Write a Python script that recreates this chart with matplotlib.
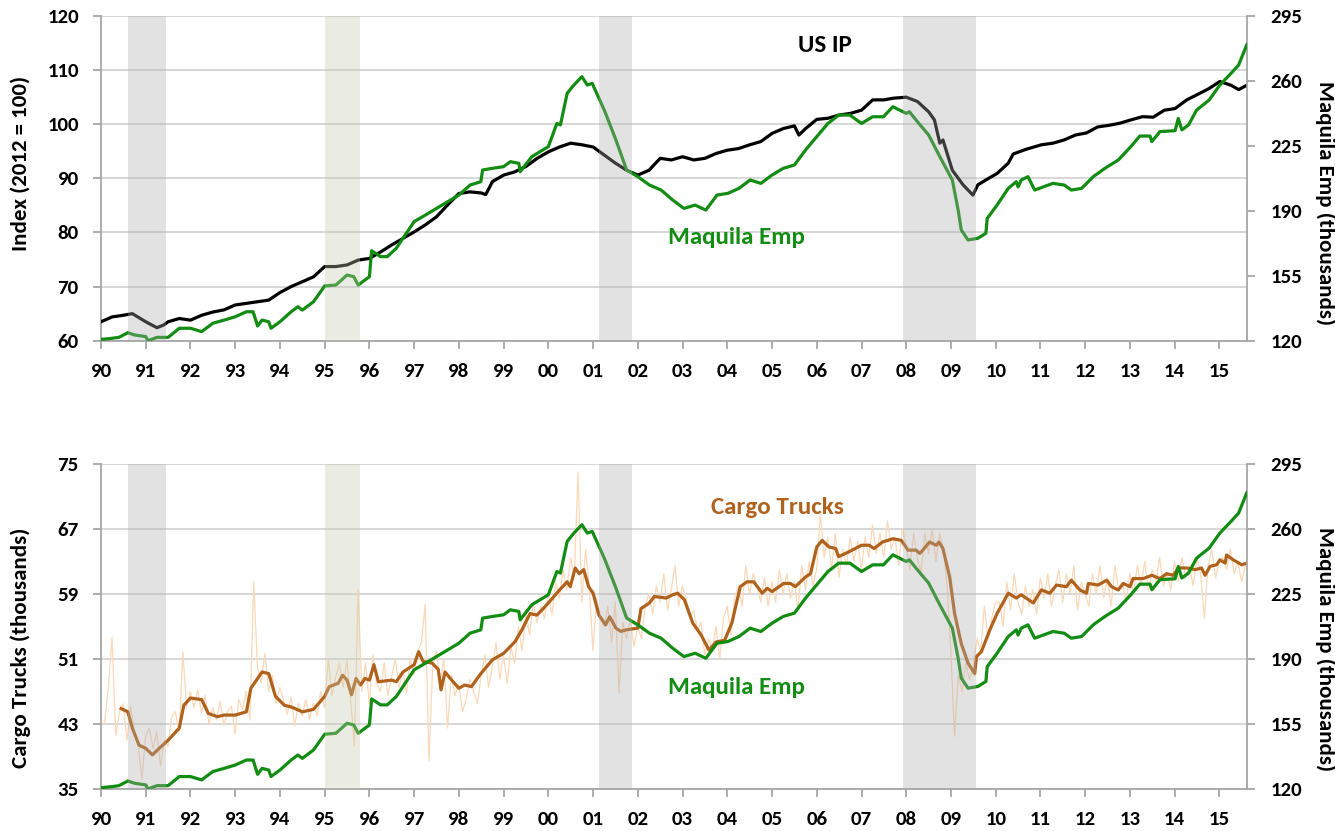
import matplotlib
matplotlib.use("Agg")
import matplotlib.pyplot as plt
import numpy as np

# ---------------- data ----------------
years_ticks = list(range(1990, 2016))
tick_labels = [f"{y % 100:02d}" for y in years_ticks]

ip_x = [1990.0,1990.25,1990.5,1990.7,1991.0,1991.25,1991.4,1991.5,1991.75,1992.0,1992.25,1992.5,1992.75,
        1993.0,1993.25,1993.5,1993.75,1994.0,1994.25,1994.5,1994.75,1995.0,1995.25,1995.5,1995.75,1996.0,
        1996.25,1996.5,1996.75,1997.0,1997.25,1997.5,1997.75,1998.0,1998.25,1998.5,1998.6,1998.75,1999.0,
        1999.25,1999.5,1999.75,2000.0,2000.25,2000.5,2000.75,2001.0,2001.25,2001.5,2001.75,2002.0,2002.25,
        2002.5,2002.75,2003.0,2003.25,2003.5,2003.75,2004.0,2004.25,2004.5,2004.75,2005.0,2005.25,2005.5,
        2005.6,2005.75,2006.0,2006.25,2006.5,2006.75,2007.0,2007.25,2007.5,2007.7,2008.0,2008.25,2008.5,
        2008.63,2008.75,2008.82,2009.03,2009.27,2009.49,2009.6,2009.78,2010.03,2010.28,2010.39,2010.69,
        2011.02,2011.28,2011.53,2011.78,2012.03,2012.28,2012.53,2012.78,2013.02,2013.28,2013.52,2013.77,
        2014.01,2014.27,2014.51,2014.77,2015.01,2015.26,2015.43,2015.61]
ip_v = [63.5,64.4,64.7,65.0,63.5,62.4,62.9,63.5,64.1,63.8,64.7,65.3,65.7,
        66.6,66.9,67.2,67.5,68.9,70.0,70.9,71.8,73.7,73.7,74.0,74.9,75.2,
        76.4,77.7,78.9,80.1,81.4,82.9,85.1,87.2,87.5,87.3,87.0,89.4,90.6,
        91.2,92.2,93.7,94.9,95.8,96.5,96.2,95.8,94.3,92.8,91.5,90.6,91.5,
        93.7,93.4,94.0,93.4,93.7,94.6,95.2,95.5,96.2,96.8,98.3,99.2,99.7,
        98.0,99.2,100.9,101.1,101.7,102.0,102.6,104.5,104.5,104.8,105.0,104.2,102.3,
        100.8,96.5,97.1,91.5,88.8,86.9,88.8,89.7,90.9,92.8,94.5,95.4,
        96.2,96.5,97.1,98.0,98.4,99.5,99.8,100.2,100.8,101.4,101.3,102.6,
        102.9,104.5,105.5,106.6,107.9,107.2,106.4,107.2]

maq_x = [1990.0,1990.25,1990.4,1990.6,1990.75,1991.0,1991.05,1991.25,1991.5,1991.75,1992.0,1992.25,1992.5,
         1992.75,1993.0,1993.25,1993.4,1993.5,1993.6,1993.75,1993.8,1994.0,1994.25,1994.4,1994.5,1994.75,
         1995.0,1995.25,1995.5,1995.65,1995.75,1996.0,1996.05,1996.25,1996.4,1996.6,1996.75,1997.0,1997.25,
         1997.5,1997.75,1998.0,1998.25,1998.49,1998.53,1998.75,1999.0,1999.15,1999.34,1999.37,1999.63,
         2000.0,2000.19,2000.27,2000.42,2000.57,2000.75,2000.87,2000.98,2001.25,2001.51,2001.75,2002.0,
         2002.26,2002.52,2002.78,2003.03,2003.28,2003.52,2003.77,2004.01,2004.26,2004.51,2004.75,2005.0,
         2005.25,2005.5,2005.75,2006.0,2006.25,2006.49,2006.74,2007.0,2007.25,2007.49,2007.7,2008.0,
         2008.07,2008.25,2008.5,2008.75,2009.03,2009.16,2009.23,2009.38,2009.6,2009.78,2009.81,2010.03,
         2010.28,2010.46,2010.5,2010.57,2010.72,2010.87,2011.28,2011.53,2011.69,2011.92,2012.18,2012.44,
         2012.74,2013.02,2013.22,2013.45,2013.49,2013.67,2014.01,2014.08,2014.16,2014.31,2014.49,2014.77,
         2015.01,2015.26,2015.43,2015.61]
maq_v = [120.7,121.3,121.8,124.3,123.1,122.2,120.0,121.8,121.8,126.7,126.7,124.9,129.4,
         131.1,132.9,135.6,135.6,127.9,131.1,130.2,126.7,130.2,135.6,138.3,136.5,141.0,
         149.5,150.0,155.4,154.5,150.0,154.5,168.5,165.3,165.3,169.8,175.2,184.2,187.7,
         191.3,194.9,198.5,203.9,205.7,212.0,212.9,213.8,216.5,215.6,211.1,219.2,
         224.6,237.1,236.3,253.3,257.8,262.3,257.8,258.7,244.3,228.2,212.0,208.4,
         203.9,201.2,195.8,191.3,193.1,190.4,198.5,199.4,202.1,206.6,204.8,209.3,
         212.9,214.7,222.8,230.0,237.1,241.6,241.6,237.1,240.7,240.7,246.1,242.5,
         243.4,238.0,230.9,219.2,206.6,190.4,179.7,174.3,175.2,177.9,185.9,193.1,
         202.1,205.7,202.9,206.6,208.4,201.2,204.8,203.9,201.2,202.1,208.4,212.9,
         217.4,224.6,230.3,230.3,227.3,232.7,233.2,239.8,233.6,236.3,244.3,249.7,
         257.8,264.1,268.6,279.4]

truck_x = [1990.45,1990.6,1990.7,1990.85,1991.0,1991.15,1991.3,1991.5,1991.75,1991.85,1992.0,1992.25,1992.4,
           1992.6,1992.75,1993.0,1993.25,1993.35,1993.6,1993.75,1993.9,1994.1,1994.25,1994.5,1994.75,1995.0,
           1995.1,1995.3,1995.4,1995.5,1995.6,1995.7,1995.8,1995.9,1996.0,1996.1,1996.2,1996.5,1996.6,1996.75,
           1997.0,1997.1,1997.2,1997.4,1997.54,1997.6,1997.69,1997.84,1998.0,1998.13,1998.28,1998.49,1998.75,
           1999.0,1999.25,1999.41,1999.59,1999.74,1999.85,2000.0,2000.25,2000.42,2000.49,2000.6,2000.69,
           2000.79,2000.9,2001.0,2001.13,2001.28,2001.37,2001.51,2001.62,2001.75,2002.0,2002.07,2002.26,
           2002.37,2002.63,2002.78,2002.89,2003.04,2003.23,2003.41,2003.59,2003.75,2003.94,2004.1,2004.29,
           2004.44,2004.59,2004.78,2004.89,2005.0,2005.26,2005.41,2005.52,2005.75,2005.86,2006.0,2006.12,
           2006.27,2006.42,2006.49,2006.72,2007.0,2007.17,2007.28,2007.47,2007.7,2007.89,2008.04,2008.22,
           2008.3,2008.37,2008.52,2008.67,2008.73,2008.82,2008.97,2009.08,2009.23,2009.38,2009.53,2009.57,
           2009.68,2009.87,2010.03,2010.28,2010.46,2010.57,2010.84,2011.02,2011.21,2011.36,2011.58,2011.69,
           2011.88,2012.03,2012.07,2012.29,2012.48,2012.59,2012.74,2012.85,2013.0,2013.07,2013.3,2013.49,
           2013.67,2013.82,2013.97,2014.08,2014.27,2014.46,2014.6,2014.68,2014.79,2014.94,2015.01,2015.13,
           2015.16,2015.31,2015.5,2015.61]
truck_v = [44.9,44.5,42.5,40.4,40.0,39.2,40.0,41.0,42.5,45.3,46.2,46.0,44.3,
           43.9,44.1,44.1,44.5,47.4,49.4,49.2,46.4,45.3,45.1,44.5,44.8,46.4,
           47.6,48.0,49.0,48.4,46.6,48.6,47.8,48.6,48.4,50.3,48.2,48.4,48.2,49.4,
           50.3,51.9,50.7,50.5,49.7,47.2,49.4,48.4,47.4,47.8,47.6,49.2,50.9,
           51.7,53.1,54.6,56.6,56.4,57.0,57.9,59.5,60.5,59.9,62.2,61.5,
           62.0,59.9,59.1,56.4,55.2,56.2,54.8,54.4,54.6,54.8,57.2,57.9,
           58.7,58.5,58.9,59.1,58.3,55.4,54.0,52.1,53.1,53.3,55.4,59.9,
           60.5,60.5,59.1,59.7,59.3,60.3,60.3,59.9,61.1,61.5,64.8,65.6,
           64.8,64.6,63.6,64.2,65.0,65.0,64.6,65.4,65.8,65.6,64.4,64.4,
           64.0,64.4,65.4,65.0,65.4,64.6,61.1,56.6,52.9,50.5,49.2,51.3,
           51.9,54.6,56.6,59.1,58.5,58.9,57.9,59.5,59.1,60.1,59.9,60.7,
           59.5,59.1,60.3,60.1,60.7,59.9,59.5,60.3,59.9,60.9,60.9,61.3,
           60.9,61.5,61.3,62.2,62.2,62.0,62.2,61.3,62.4,62.6,63.2,62.8,
           63.8,63.2,62.6,62.8]

# monthly raw cargo trucks, Jan 1990 .. Jul 2015
truck_raw = [
    43.0, 47.5, 53.7, 41.6, 44.5, 45.5, 41.0, 45.2, 42.0, 40.5, 36.2, 41.5,
    42.5, 40.0, 42.0, 37.8, 41.0, 40.2, 43.9, 44.5, 42.0, 51.9, 45.0, 47.0,
    45.0, 47.2, 44.3, 46.5, 43.0, 45.0, 43.5, 45.8, 42.8, 44.5, 45.2, 41.8,
    46.0, 44.8, 47.0, 43.5, 60.5, 50.0, 48.0, 51.7, 47.0, 49.0, 45.5, 47.5,
    46.0, 44.2, 46.3, 42.8, 45.5, 44.0, 46.0, 43.5, 45.6, 44.0, 47.0, 45.0,
    51.0, 46.5, 48.8, 50.5, 47.5, 51.0, 46.0, 40.3, 59.5, 47.0, 50.5, 45.5,
    51.5, 48.0, 47.0, 50.5, 46.5, 48.8, 51.0, 47.5, 49.5, 46.8, 51.0, 49.0,
    52.0, 53.0, 57.7, 38.5, 50.0, 52.0, 48.0, 51.0, 42.5, 49.0, 46.5, 48.0,
    44.5, 46.0, 48.5, 47.0, 45.5, 49.0, 51.5, 47.5, 50.0, 53.0, 48.5, 51.5,
    48.0, 52.5, 50.5, 55.0, 52.0, 56.5, 54.0, 58.0, 55.5, 57.5, 56.0, 59.0,
    56.5, 60.5, 58.5, 62.0, 59.5, 63.5, 61.0, 74.0, 58.0, 64.5, 60.0, 52.0,
    58.5, 56.0, 55.0, 57.5, 53.0, 58.0, 46.8, 55.5, 53.5, 56.0, 52.5, 55.0,
    53.5, 57.5, 59.0, 56.5, 60.0, 58.0, 61.5, 57.0, 59.5, 62.5, 57.5, 60.0,
    58.5, 56.0, 57.0, 54.5, 55.5, 51.5, 53.5, 52.0, 55.0, 51.0, 56.0, 57.5,
    54.0, 58.5, 60.0, 57.5, 62.5, 59.0, 61.5, 60.0, 58.0, 61.0, 57.5, 60.5,
    58.0, 62.0, 59.0, 61.5, 58.5, 60.5, 57.0, 62.5, 59.5, 63.0, 60.0, 62.0,
    69.0, 63.5, 66.0, 62.0, 66.5, 61.0, 64.5, 62.5, 66.0, 63.0, 65.5, 62.0,
    66.0, 63.5, 67.5, 64.0, 66.5, 63.5, 68.0, 64.5, 66.0, 62.5, 67.0, 65.0,
    62.0, 66.5, 63.5, 61.5, 66.5, 64.0, 67.0, 63.0, 66.5, 64.5, 60.0, 52.0,
    41.5, 49.0, 47.0, 50.5, 48.5, 50.0, 53.5, 52.0, 57.5, 53.5, 56.0, 58.0,
    58.0, 55.0, 60.5, 57.0, 61.5, 58.0, 56.5, 60.0, 57.5, 59.5, 56.5, 61.0,
    58.5, 61.5, 57.5, 60.0, 62.0, 58.0, 61.5, 59.0, 62.5, 57.0, 60.5, 59.0,
    57.5, 61.5, 59.0, 62.5, 58.5, 61.0, 57.5, 62.5, 59.5, 60.5, 58.0, 61.5,
    59.0, 62.5, 60.0, 63.0, 59.5, 62.0, 60.5, 63.5, 60.0, 61.5, 59.5, 63.0,
    60.5, 63.5, 61.0, 62.5, 60.0, 63.5, 61.5, 56.0, 62.5, 64.5, 61.0, 63.0,
    63.5, 62.0, 64.5, 61.5, 63.0, 60.5, 62.5]
raw_start = 1990.08

# shaded periods (start, end, kind)
shade_start = [1990.61, 1995.0, 2001.13, 2007.92]
shade_end = [1991.45, 1995.8, 2001.87, 2009.56]
shade_kind = ["us", "mx", "us", "us"]

assert len(ip_x) == len(ip_v), (len(ip_x), len(ip_v))
assert len(maq_x) == len(maq_v), (len(maq_x), len(maq_v))
assert len(truck_x) == len(truck_v), (len(truck_x), len(truck_v))

# ---------------- style ----------------
FONT = ["Carlito", "DejaVu Sans"]
plt.rcParams["font.family"] = FONT
plt.rcParams["font.weight"] = "bold"

GREEN = "#128c12"
BLACK = "#000000"
BROWN = "#b0621c"
PEACH = "#fbd8b8"
GRID = "#d4d4d4"
SPINE = "#a6a6a6"
SHADE = {"us": ("#acacac", 0.34), "mx": ("#c4c7ad", 0.34)}

W_PX, H_PX = 1335, 831
fig = plt.figure(figsize=(W_PX / 100, H_PX / 100), dpi=100)
left = 101 / W_PX
width = (1246.7 - 101) / W_PX
ax1 = fig.add_axes([left, 1 - 340.7 / H_PX, width, 324.7 / H_PX])
ax2 = fig.add_axes([left, 1 - 789 / H_PX, width, 325 / H_PX])
ax1r = ax1.twinx()
ax2r = ax2.twinx()

TICK_FS = 15
LABEL_FS = 16.5
NOTE_FS = 18


def style(ax, axr, ylim, yticks, rlim, rticks, ylabel, ylab_y, rlab_y):
    ax.set_xlim(1990, 2015.61)
    ax.set_ylim(*ylim)
    ax.set_yticks(yticks)
    axr.set_ylim(*rlim)
    axr.set_yticks(rticks)
    ax.set_xticks(years_ticks)
    ax.set_xticklabels(tick_labels)
    ax.grid(axis="y", color=GRID, lw=1.3)
    ax.set_axisbelow(True)
    for a in (ax, axr):
        a.spines["top"].set_visible(False)
        for s in ("left", "right", "bottom"):
            a.spines[s].set_color(SPINE)
            a.spines[s].set_linewidth(1.3)
    axr.spines["left"].set_visible(False)
    axr.spines["bottom"].set_visible(False)
    ax.spines["right"].set_visible(False)
    ax.tick_params(axis="x", direction="out", length=6, width=1.3, color=SPINE,
                   pad=10, labelsize=TICK_FS)
    ax.tick_params(axis="y", direction="out", length=6, width=1.3, color=SPINE,
                   pad=10, labelsize=TICK_FS)
    axr.tick_params(axis="y", direction="out", length=6, width=1.3, color=SPINE,
                    pad=11, labelsize=TICK_FS)
    for lab in ax.get_xticklabels() + ax.get_yticklabels() + axr.get_yticklabels():
        lab.set_fontweight("bold")
    ax.set_ylabel(ylabel, fontsize=LABEL_FS, fontweight="bold")
    ax.yaxis.set_label_coords(-0.061, ylab_y)
    axr.set_ylabel("Maquila Emp (thousands)", fontsize=LABEL_FS, fontweight="bold",
                   rotation=270, va="center")
    axr.yaxis.set_label_coords(1.0683, rlab_y)
    for s, e, k in zip(shade_start, shade_end, shade_kind):
        c, a = SHADE[k]
        axr.axvspan(s, e, color=c, alpha=a, lw=0, zorder=10)


# ---------------- top panel ----------------
ax1.plot(ip_x, ip_v, color=BLACK, lw=2.3, zorder=3)
ax1r.plot(maq_x, maq_v, color=GREEN, lw=2.3, zorder=3)
style(ax1, ax1r, (60, 120), range(60, 121, 10), (120, 295), [120, 155, 190, 225, 260, 295],
      "Index (2012 = 100)", 0.547, 0.4226)
ax1.text(2006.17, 114.6, "US IP", color=BLACK, fontsize=NOTE_FS, fontweight="bold",
         ha="center", va="center")
ax1.text(2004.21, 79.0, "Maquila Emp", color=GREEN, fontsize=NOTE_FS, fontweight="bold",
         ha="center", va="center")

# ---------------- bottom panel ----------------
raw_x = [raw_start + i / 12 for i in range(len(truck_raw))]
ax2.plot(raw_x, truck_raw, color=PEACH, lw=0.9, zorder=2)
ax2.plot(truck_x, truck_v, color=BROWN, lw=2.3, zorder=3)
ax2r.plot(maq_x, maq_v, color=GREEN, lw=2.3, zorder=3)
style(ax2, ax2r, (35, 75), [35, 43, 51, 59, 67, 75], (120, 295), [120, 155, 190, 225, 260, 295],
      "Cargo Trucks (thousands)", 0.434, 0.432)
ax2.text(2005.13, 69.7, "Cargo Trucks", color=BROWN, fontsize=NOTE_FS, fontweight="bold",
         ha="center", va="center")
ax2.text(2004.21, 47.55, "Maquila Emp", color=GREEN, fontsize=NOTE_FS, fontweight="bold",
         ha="center", va="center")

fig.savefig("out.png", dpi=100)
